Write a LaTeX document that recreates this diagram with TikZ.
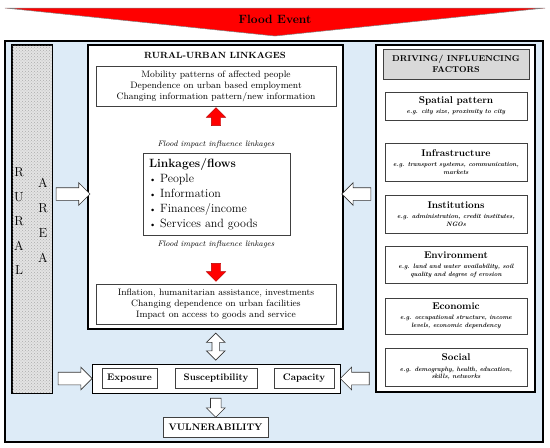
\documentclass[tikz,border=0pt]{standalone}
\usetikzlibrary{calc,positioning,patterns,shapes.arrows}
\definecolor{floodred}{RGB}{255,0,0}
\definecolor{areablue}{RGB}{221,235,247}
\definecolor{headgray}{RGB}{217,217,217}

\tikzset{
  panel/.style={draw, line width=1.4pt, fill=white, inner sep=0pt},
  inbox/.style={draw=black!75, line width=0.8pt, fill=white, inner sep=1pt},
  factorbox/.style={inbox, minimum width=142, align=center, font=\fontsize{6.3}{7.6}\selectfont\bfseries\itshape},
  keybox/.style={inbox, minimum height=20, font=\fontsize{9.5}{11}\selectfont\bfseries},
  hollowarrow/.style={single arrow, draw=black!80, line width=0.6pt, fill=white, inner sep=6pt, single arrow head extend=5pt, single arrow head indent=0pt},
  redarrow/.style={single arrow, draw=red!70!black, line width=0.4pt, fill=floodred, inner sep=4.5pt, single arrow head extend=5pt, minimum height=18},
  note/.style={font=\fontsize{8}{10}\selectfont\itshape}
}
\newcommand{\ftitle}[1]{{\fontsize{9.8}{11}\selectfont\upshape #1}}

\begin{document}
\begin{tikzpicture}[x=1pt,y=-1pt]
\useasboundingbox (0,0) rectangle (550,448);

% flood event
\draw[draw=gray, line width=0.5pt, fill=floodred] (5,8) -- (545,8) -- (275,36) -- cycle;
\node[font=\fontsize{12}{14}\selectfont\bfseries] (flood) at (275,19) {Flood Event};

% frame
\draw[line width=1.6pt, fill=areablue] (5,41) rectangle (543,442);

% rural area
\node[draw, line width=1pt, fill=gray!22, minimum width=40, minimum height=348, inner sep=0pt] (rural) at (32,219) {};
\fill[pattern=crosshatch dots, pattern color=gray!65] (rural.south west) rectangle (rural.north east);
\draw[line width=1pt] (rural.south west) rectangle (rural.north east);
\foreach\ch [count=\i] in {R,U,R,A,L}
\node[font=\fontsize{13}{15}\selectfont] (rl\i) at (19, 148+24.5*\i) {\ch};
\foreach\ch [count=\i] in {A,R,E,A}
\node[font=\fontsize{13}{15}\selectfont] (ar\i) at (43, 158+25*\i) {\ch};

% rural-urban linkages
\node[panel, minimum width=255, minimum height=284] (linkages) at (215.5,187) {};
\node[font=\fontsize{9}{11}\selectfont\bfseries] (lktitle) at (215,55) {RURAL-URBAN LINKAGES};
\node[inbox, minimum width=240, minimum height=40, align=center, font=\fontsize{9.3}{11}\selectfont] (effects) at (216,86)
  {Mobility patterns of affected people\\Dependence on urban based employment\\Changing information pattern/new information};
\node[redarrow, shape border rotate=90] (up) at (216,119) {};
\node[note] (fi1) at (216,144) {Flood impact influence linkages};
\node[inbox, text width=135, inner xsep=6pt, minimum height=82, align=left, font=\fontsize{12}{15}\selectfont] (flows) at (216.5,194)
  {\textbf{Linkages/flows}\\{\small\textbullet} People\\{\small\textbullet} Information\\{\small\textbullet} Finances/income\\{\small\textbullet} Services and goods};
\node[note] (fi2) at (216,244) {Flood impact influence linkages};
\node[redarrow, shape border rotate=270] (down) at (216,270) {};
\node[inbox, minimum width=240, minimum height=40, align=center, font=\fontsize{9.3}{11}\selectfont] (impact) at (216,304)
  {Inflation, humanitarian assistance, investments\\Changing dependence on urban facilities\\Impact on access to goods and service};

% vulnerability components
\node[panel, line width=1pt, minimum width=248, minimum height=29] (exprow) at (216,378.5) {};
\node[keybox, minimum width=55] (exposure) at (129.5,378.5) {Exposure};
\node[keybox, minimum width=82] (suscept) at (216,378.5) {Susceptibility};
\node[keybox, minimum width=60] (capacity) at (304,378.5) {Capacity};
\node[keybox, minimum width=105] (vuln) at (215.5,427) {VULNERABILITY};

\node[double arrow, draw=black!80, line width=0.6pt, fill=white, inner sep=3.5pt, double arrow head extend=5.5pt, minimum height=27, shape border rotate=90] (twoway) at ($(linkages.south)!.5!(exprow.north)$) {};
\node[hollowarrow, inner sep=5pt, single arrow head extend=4pt, minimum height=19, shape border rotate=270] (tovuln) at ($(exprow.south)!.5!(vuln.north)$) {};

% driving factors
\node[panel, minimum width=159, minimum height=347] (driving) at (455.5,218.5) {};
\node[inbox, fill=headgray, minimum width=146, minimum height=30, align=center, font=\fontsize{8.5}{11}\selectfont\bfseries] (drvhead) at (456,64) {DRIVING/ INFLUENCING\\FACTORS};
\node[factorbox, minimum height=28] (spatial) at (456,106) {\ftitle{Spatial pattern}\\[2.5pt]e.g. city size, proximity to city};
\node[factorbox, minimum height=38] (infra) at (456,162) {\ftitle{Infrastructure}\\[2.5pt]e.g. transport systems, communication,\\markets};
\node[factorbox, minimum height=38] (inst) at (456,214) {\ftitle{Institutions}\\[2.5pt]e.g. administration, credit institutes,\\NGOs};
\node[factorbox, minimum height=37] (env) at (456,264.5) {\ftitle{Environment}\\[2.5pt]e.g. land and water availability, soil\\quality and degree of erosion};
\node[factorbox, minimum height=36] (econ) at (456,316) {\ftitle{Economic}\\[2.5pt]e.g. occupational structure, income\\levels, economic dependency};
\node[factorbox, minimum height=38] (social) at (456,367) {\ftitle{Social}\\[2.5pt]e.g. demography, health, education,\\skills, networks};

% block arrows
\node[hollowarrow, minimum height=34] (ruralin) at ($(rural.east |- flows)!.5!(linkages.west |- flows)$) {};
\node[hollowarrow, minimum height=34] (ruralexp) at ($(rural.east |- exprow)!.5!(exprow.west)$) {};
\node[hollowarrow, minimum height=29, shape border rotate=180] (drivein) at ($(linkages.east |- flows)!.5!(driving.west |- flows)$) {};
\node[hollowarrow, minimum height=29, shape border rotate=180] (driveexp) at ($(exprow.east)!.5!(driving.west |- exprow)$) {};
\end{tikzpicture}
\end{document}
